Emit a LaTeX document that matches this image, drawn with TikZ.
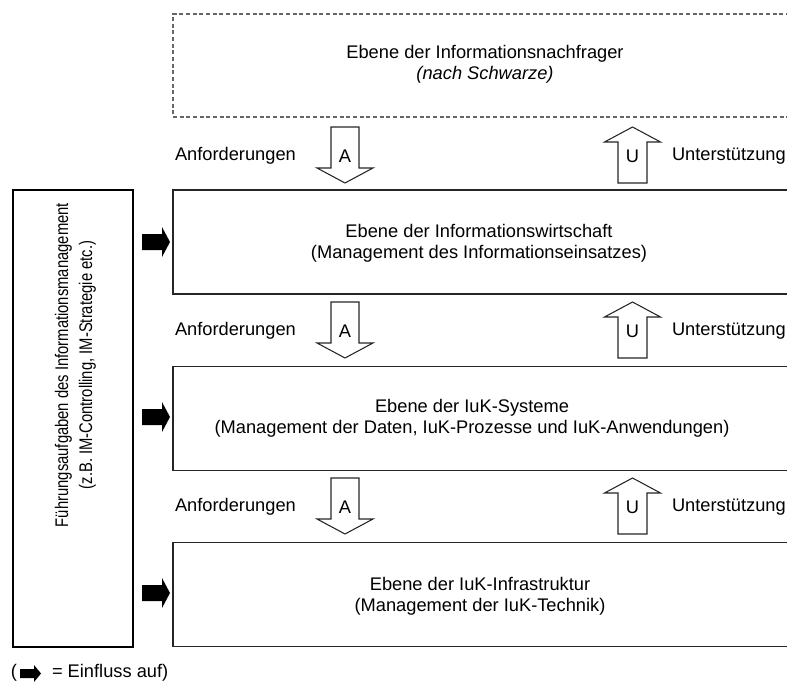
\documentclass[tikz,border=0pt]{standalone}
\usepackage{fontspec}
\setmainfont{Liberation Sans}
\begin{document}
\begin{tikzpicture}[x=0.75pt,y=-0.75pt,
  every node/.style={inner sep=0pt,outer sep=0pt,font=\fontsize{13.7}{15.75}\selectfont},
  level/.style={draw=black!85,line width=0.9pt,minimum width=627*0.75pt,minimum height=#1*0.75pt},
  levelsolid/.style={level=104},
  leveltext/.style={align=center},
  sidelabel/.style={anchor=west},
  hollow/.style={draw=black!85,line width=0.8pt,fill=white,line join=miter},
  pics/downarrow/.style={code={
    \draw[hollow] (-14,0) -- (14,0) -- (14,41) -- (28,41) -- (0,56) -- (-28,41) -- (-14,41) -- cycle;
    \node at (0,29) {#1};}},
  pics/uparrow/.style={code={
    \draw[hollow] (0,0) -- (28,15) -- (14.5,15) -- (14.5,56) -- (-14.5,56) -- (-14.5,15) -- (-28,15) -- cycle;
    \node at (0,29) {#1};}},
  pics/infarrow/.style={code={
    \fill[black] (0,0) -- (-8,-15) -- (-8,-8) -- (-28,-8) -- (-28,8) -- (-8,8) -- (-8,15) -- cycle;}},
  pics/smallarrow/.style={code={
    \fill[black] (0,0) -- (-7,-8.5) -- (-7,-4.5) -- (-21,-4.5) -- (-21,4.5) -- (-7,4.5) -- (-7,8.5) -- cycle;}}
]
\useasboundingbox (0,0) rectangle (787,681);
\clip (0,0) rectangle (787,681);

% levels of the information management model
\node[draw=black!60,dash pattern=on 3pt off 2pt,line width=0.9pt,minimum width=627*0.75pt,minimum height=103*0.75pt] (nachfrage) at (486.5,65.5) {};
\node[levelsolid] (wirtschaft) at (486.5,242) {};
\node[levelsolid] (systeme) at (486.5,418.5) {};
\node[levelsolid] (infra) at (486.5,594.5) {};

\node[leveltext] (t1) at (485,64) {Ebene der Informationsnachfrager\\\textit{(nach Schwarze)}};
\node[leveltext] (t2) at (479,243) {Ebene der Informationswirtschaft\\(Management des Informationseinsatzes)};
\node[leveltext] (t3) at (472,418) {Ebene der IuK-Systeme\\(Management der Daten, IuK-Prozesse und IuK-Anwendungen)};
\node[leveltext] (t4) at (480,596) {Ebene der IuK-Infrastruktur\\(Management der IuK-Technik)};

% requirements and support between the levels
\foreach \y [count=\i] in {127,302,478} {
  \pic at (345,\y) {downarrow=A};
  \pic at (632.5,\y) {uparrow=U};
  \node[sidelabel] (anf\i) at (175,\y+29) {Anforderungen};
  \node[sidelabel] (unt\i) at (672,\y+29) {Unterstützung};
}

% management tasks on the left
\node[draw=black,line width=0.8pt,minimum width=120*0.75pt,minimum height=457*0.75pt] (fuehrung) at (73,418.5) {};
\node[rotate=90,font=\fontsize{13.7}{19}\selectfont] (ft) at (75,365)
  {\scalebox{0.81}[1]{\begin{tabular}{@{}c@{}}Führungsaufgaben des Informationsmanagement\\[-1pt](z.B. IM-Controlling, IM-Strategie etc.)\end{tabular}}};

\pic at (170,242) {infarrow};
\pic at (170,417) {infarrow};
\pic at (170,593) {infarrow};

% legend
\node[anchor=west] (lp) at (11,673) {(};
\pic at (41,673.5) {smallarrow};
\node[anchor=west] (lt) at (52,673) {= Einfluss auf)};
\end{tikzpicture}
\end{document}
